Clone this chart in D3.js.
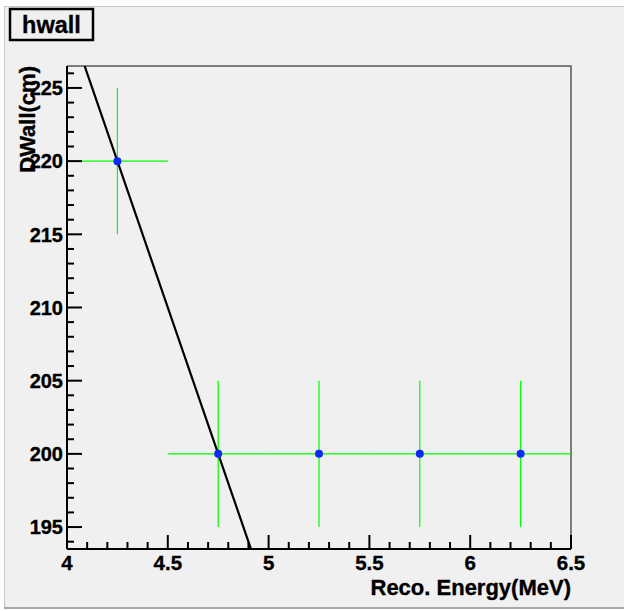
<!DOCTYPE html>
<html>
<head>
<meta charset="utf-8">
<script src="https://cdn.jsdelivr.net/npm/d3@7.9.0/dist/d3.min.js"></script>
<style>
  body { margin: 0; background: #fff; }
  text { font-family: "Liberation Sans", Arial, sans-serif; font-weight: bold; fill: #000; stroke: #000; stroke-width: 0.35px; }
</style>
</head>
<body>
<svg id="chart" width="624" height="611"></svg>
<script>
// histogram bins (centers, half widths) and contents
const binCenters = [4.25, 4.75, 5.25, 5.75, 6.25];
const binHalfWidth = [0.25, 0.25, 0.25, 0.25, 0.25];
const dwall = [220, 200, 200, 200, 200];
const dwallErr = [5, 5, 5, 5, 5];

// straight line fit: y = p0 + p1 * x
const fitParams = [390, -40];

const xTicks = [4, 4.5, 5, 5.5, 6, 6.5];
const yTicks = [195, 200, 205, 210, 215, 220, 225];

const svg = d3.select('#chart');
const W = 624, H = 611;
const margin = { left: 67, right: 53, top: 66, bottom: 62 };

// canvas background
svg.append('rect')
  .attr('x', 4.5).attr('y', 6.5)
  .attr('width', W + 10).attr('height', 601)
  .attr('fill', '#f0f0f0')
  .attr('stroke', '#c8c8c8');
svg.append('line')
  .attr('x1', 4).attr('x2', W).attr('y1', 608).attr('y2', 608)
  .attr('stroke', '#a8a8a8').attr('stroke-width', 2);

const x = d3.scaleLinear().domain([4, 6.5]).range([margin.left, W - margin.right]);
const y = d3.scaleLinear().domain([193.5, 226.5]).range([H - margin.bottom, margin.top]);

const x0 = x.range()[0], x1 = x.range()[1];
const yb = y.range()[0], yt = y.range()[1];

// frame (top/right)
svg.append('path')
  .attr('d', `M${x0},${yt}H${x1}V${yb}`)
  .attr('fill', 'none')
  .attr('stroke', '#555')
  .attr('stroke-width', 1.5);

// clip region for data
svg.append('clipPath').attr('id', 'clip')
  .append('rect').attr('x', x0).attr('y', yt).attr('width', x1 - x0).attr('height', yb - yt);

const plot = svg.append('g').attr('clip-path', 'url(#clip)');

const pts = binCenters.map((c, i) => ({ x: c, hw: binHalfWidth[i], y: dwall[i], e: dwallErr[i] }));

// error bars
plot.selectAll('.hbar').data(pts).enter().append('line')
  .attr('x1', d => x(d.x - d.hw)).attr('x2', d => x(d.x + d.hw))
  .attr('y1', d => y(d.y)).attr('y2', d => y(d.y))
  .attr('stroke', '#00ff00').attr('stroke-width', 1.2);
plot.selectAll('.vbar').data(pts).enter().append('line')
  .attr('x1', d => x(d.x)).attr('x2', d => x(d.x))
  .attr('y1', d => y(d.y - d.e)).attr('y2', d => y(d.y + d.e))
  .attr('stroke', '#00ff00').attr('stroke-width', 1.2);

// fit line
const fx = [4, 6.5];
plot.append('line')
  .attr('x1', x(fx[0])).attr('y1', y(fitParams[0] + fitParams[1] * fx[0]))
  .attr('x2', x(fx[1])).attr('y2', y(fitParams[0] + fitParams[1] * fx[1]))
  .attr('stroke', '#000').attr('stroke-width', 2.2);

// markers
plot.selectAll('.pt').data(pts).enter().append('circle')
  .attr('cx', d => x(d.x)).attr('cy', d => y(d.y)).attr('r', 4)
  .attr('fill', '#0a28ff');

// axes (ROOT style: ticks inside)
const xAxis = svg.append('g').attr('transform', `translate(0,${yb})`);
xAxis.append('line').attr('x1', x0).attr('x2', x1).attr('stroke', '#000').attr('stroke-width', 2);
const xMinor = d3.range(40, 66).map(v => v / 10);
xAxis.selectAll('.mt').data(xMinor).enter().append('line')
  .attr('x1', d => x(d)).attr('x2', d => x(d))
  .attr('y1', 0).attr('y2', (d, i) => (i % 5 === 0 ? -14 : -7))
  .attr('stroke', '#000').attr('stroke-width', 2);
xAxis.selectAll('.tl').data(xTicks).enter().append('text')
  .attr('x', d => x(d)).attr('y', 21)
  .attr('text-anchor', 'middle')
  .style('font-size', '20.5px')
  .text(d => d3.format('~g')(d));

const yAxis = svg.append('g').attr('transform', `translate(${x0},0)`);
yAxis.append('line').attr('y1', yb).attr('y2', yt).attr('stroke', '#000').attr('stroke-width', 2);
const yMinor = d3.range(194, 227);
yAxis.selectAll('.mt').data(yMinor).enter().append('line')
  .attr('y1', d => y(d)).attr('y2', d => y(d))
  .attr('x1', 0).attr('x2', d => (d % 5 === 0 ? 15 : 7))
  .attr('stroke', '#000').attr('stroke-width', 2);
yAxis.selectAll('.tl').data(yTicks).enter().append('text')
  .attr('x', -4).attr('y', d => y(d))
  .attr('dy', '0.36em')
  .attr('text-anchor', 'end')
  .style('font-size', '20px')
  .text(d => d);

// axis titles
svg.append('text')
  .attr('x', x1).attr('y', 595)
  .attr('text-anchor', 'end')
  .style('font-size', '22px')
  .text('Reco. Energy(MeV)');
svg.append('text')
  .attr('transform', `translate(35,${yt}) rotate(-90)`)
  .attr('text-anchor', 'end')
  .style('font-size', '22px')
  .text('DWall(cm)');

// title box
svg.append('rect')
  .attr('x', 10).attr('y', 9).attr('width', 83).attr('height', 31)
  .attr('fill', '#f0f0f0').attr('stroke', '#000').attr('stroke-width', 2.5);
svg.append('text')
  .attr('x', 51.5).attr('y', 33)
  .attr('text-anchor', 'middle')
  .style('font-size', '23.5px')
  .text('hwall');
</script>
</body>
</html>
